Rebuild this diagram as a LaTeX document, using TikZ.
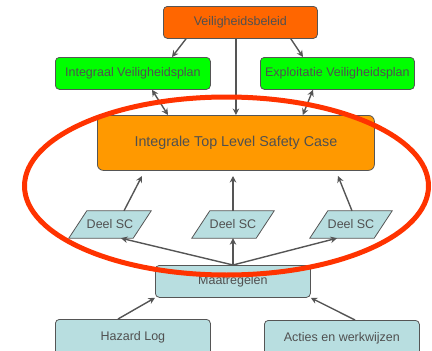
\documentclass[tikz,border=0pt]{standalone}
\usepackage{fontspec}
\setmainfont{Liberation Sans}
\usetikzlibrary{arrows.meta,backgrounds}
\definecolor{txt}{RGB}{80,80,80}
\definecolor{brd}{RGB}{85,85,85}
\definecolor{orangeA}{RGB}{255,102,0}
\definecolor{greenA}{RGB}{0,255,0}
\definecolor{orangeB}{RGB}{255,153,0}
\definecolor{blueA}{RGB}{184,222,224}
\definecolor{redA}{RGB}{255,51,0}
\tikzset{
  box/.style={draw=brd, line width=0.8pt, rounded corners=4pt, text=txt,
    font=\fontsize{12.5}{14}\selectfont, inner sep=0pt, anchor=north west},
  deel/.style={text=txt, font=\fontsize{12.5}{14}\selectfont,
    minimum width=64pt, minimum height=27pt, inner sep=0pt},
  deelshape/.style={draw=brd, line width=0.8pt, fill=blueA},
  arr/.style={draw=brd, line width=1.4pt, -{Stealth[length=6.5pt,width=6.5pt]}},
  darr/.style={draw=brd, line width=1.4pt, {Stealth[length=6.5pt,width=6.5pt]}-{Stealth[length=6.5pt,width=6.5pt]}},
}
\begin{document}
\begin{tikzpicture}[x=1pt,y=-1pt]
\useasboundingbox (0,0) rectangle (432,351);
\node[box, fill=orangeA, minimum width=154pt, minimum height=32pt] (vb) at (163,6) {Veiligheidsbeleid};
\node[box, fill=greenA, minimum width=155pt, minimum height=32pt] (ivp) at (55,57) {Integraal Veiligheidsplan};
\node[box, fill=greenA, minimum width=154pt, minimum height=32pt] (evp) at (260,57) {Exploitatie Veiligheidsplan};
\node[box, fill=orangeB, rounded corners=6pt, minimum width=277pt, minimum height=55pt,
  font=\fontsize{14.3}{16}\selectfont] (tlsc) at (97,115) {Integrale Top Level Safety Case};
\node[deel] (d1) at (110,224.5) {Deel SC};
\node[deel] (d2) at (233,224.5) {Deel SC};
\node[deel] (d3) at (351,224.5) {Deel SC};
\begin{pgfonlayer}{background}
\foreach \n in {d1,d2,d3}
  \draw[deelshape] ([xshift=-9pt]\n.south west) -- ([xshift=-9pt]\n.south east)
    -- ([xshift=9pt]\n.north east) -- ([xshift=9pt]\n.north west) -- cycle;
\end{pgfonlayer}
\node[box, fill=blueA, minimum width=155pt, minimum height=32pt] (maat) at (155,265) {Maatregelen};
\node[box, fill=blueA, minimum width=155pt, minimum height=36pt] (haz) at (55,319) {\raisebox{2pt}{Hazard Log}};
\node[box, fill=blueA, minimum width=155pt, minimum height=36pt] (act) at (264,320) {\raisebox{2pt}{Acties en werkwijzen}};
% arrows top
\draw[arr] ([xshift=23pt]vb.south west) -- ([xshift=117pt]ivp.north west);
\draw[arr] ([xshift=-27pt]vb.south east) -- ([xshift=43pt]evp.north west);
\draw[arr] (tlsc.north |- vb.south) -- (tlsc.north);
\draw[darr] ([xshift=97pt]ivp.south west) -- ([xshift=71pt]tlsc.north west);
\draw[darr] ([xshift=53pt]evp.south west) -- ([xshift=-72pt]tlsc.north east);
% deel to tlsc
\coordinate (t1) at (142,176);
\coordinate (t2) at (233,176);
\coordinate (t3) at (338,176);
\draw[arr] ([xshift=14pt]d1.north) -- (t1);
\draw[arr] (d2.north) -- (t2);
\draw[arr] ([xshift=1pt]d3.north) -- (t3);
% maatregelen to deel
\coordinate (m0) at (233,265);
\draw[arr] (m0) -- ([xshift=11pt]d1.south);
\draw[arr] (m0) -- (d2.south);
\draw[arr] (m0) -- ([xshift=-14pt]d3.south);
% bottom to maatregelen
\draw[arr] ([xshift=63pt]haz.north west) -- (maat.south west);
\draw[arr] ([xshift=91pt]act.north west) -- (maat.south east);
% red ellipse
\draw[redA, line width=5pt] (226.5,186) ellipse [x radius=202, y radius=89];
\end{tikzpicture}
\end{document}
